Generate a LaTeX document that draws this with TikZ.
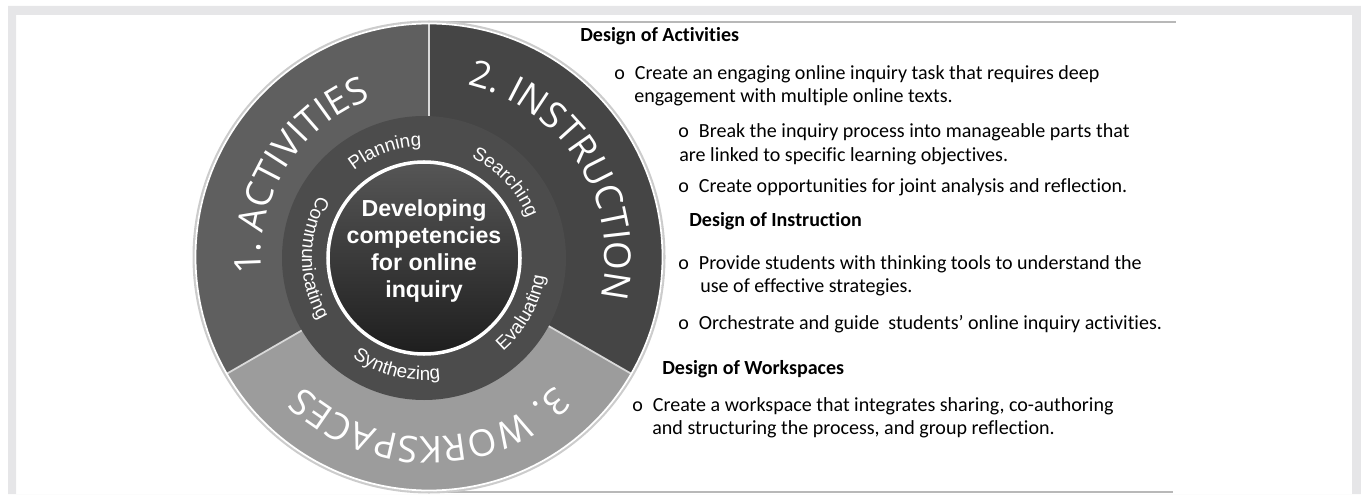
\documentclass[tikz,border=0pt]{standalone}
\usepackage{fontspec}
\setmainfont{Carlito}[Ligatures=CommonOff]
\newfontfamily\arialfont{Liberation Sans}
\newfontfamily\segoefont{Open Sans}
\usetikzlibrary{decorations.text,positioning}
\definecolor{actGray}{HTML}{5F5F5F}
\definecolor{insGray}{HTML}{454545}
\definecolor{wrkGray}{HTML}{9C9C9C}
\definecolor{ringGray}{HTML}{4C4C4C}
\definecolor{coreTop}{HTML}{565656}
\definecolor{coreBot}{HTML}{1E1E1E}
\definecolor{frameGray}{HTML}{E6E6E8}
\definecolor{ruleGray}{HTML}{B8B8B8}

\begin{document}
\begin{tikzpicture}[x=0.02cm, y=0.02cm,
  txt/.style={anchor=west, inner sep=0pt, text height=0.75em, text depth=0.25em,
    font=\fontsize{11.4}{13}\selectfont},
  head/.style={txt, font=\fontsize{11.4}{13}\selectfont\bfseries},
  ringcw/.style={decorate, decoration={text along path, text align=center,
    text={|\arialfont\fontsize{10.7}{12}\selectfont\color{white}|#1}}},
  ringccw/.style={ringcw={#1}},
  bigcw/.style={decorate, decoration={text along path, text align=center,
    text={|\segoefont\fontsize{21}{24}\selectfont\color{white}|#1}}}]
\useasboundingbox (0,0) rectangle (1361,494);
% ---- frame ----
\fill[frameGray, even odd rule] (8,0) rectangle (1361,488) (16,0) rectangle (1352,479);
\coordinate (c) at (429,237);
\coordinate (k) at (424,236);
\draw[ruleGray, line width=1.5] (c) ++(0,235) -- (1176,472);
\draw[ruleGray, line width=1.5] (415,2) -- (1173,2);
% ---- outer ring: three sectors ----
\fill[black!20] (c) circle (236.5);
\fill[actGray] (c) -- ++(90:234) arc[start angle=90, end angle=210, radius=234] -- cycle;
\fill[wrkGray] (c) -- ++(210:234) arc[start angle=210, end angle=330, radius=234] -- cycle;
\fill[insGray] (c) -- ++(-30:234) arc[start angle=-30, end angle=90, radius=234] -- cycle;
\foreach \a in {90,210,330}{\draw[white!85!black, line width=1] (c) -- ++(\a:234);}
\draw[white, line width=1] (c) circle (233.5);
% ---- middle ring and core ----
\fill[black!70] (k) circle (142);
\fill[ringGray] (k) circle (140);
\shade[top color=coreTop, bottom color=coreBot] (k) circle (96);
\draw[white, line width=2] (k) circle (96);
\node[align=center, text=white, font=\arialfont\bfseries\fontsize{13.2}{15.4}\selectfont]
  (core) at (424,243) {Developing\\competencies\\for online\\inquiry};
% ---- labels along the rings ----
\path[ringcw={Planning}] (k) ++(155:112) arc[start angle=155, end angle=65, radius=112];
\path[ringcw={Searching}] (k) ++(88:111) arc[start angle=88, end angle=-2, radius=111];
\path[ringccw={Evaluating}] (k) ++(-74:122) arc[start angle=-74, end angle=16, radius=122];
\path[ringccw={Synthezing}] (k) ++(211:122) arc[start angle=211, end angle=301, radius=122];
\path[ringccw={Communicating}] (k) ++(125:122) arc[start angle=125, end angle=235, radius=122];
\path[bigcw={1. ACTIVITIES}] (c) ++(210:168) arc[start angle=210, end angle=86, radius=168];
\path[bigcw={2. INSTRUCTION}] (c) ++(92:176) arc[start angle=92, end angle=-28, radius=176];
\path[bigcw={3. WORKSPACES}] (c) ++(330:180) arc[start angle=330, end angle=210, radius=180];
% ---- design notes ----
\node[head] (hdA) at (580,457) {Design of Activities};
\node[txt] (a1a) at (614,419) {o\enspace Create an engaging online inquiry task that requires deep};
\node[txt] (a1b) at (634,396) {engagement with multiple online texts.};
\node[txt] (a2a) at (678,361) {o\enspace Break the inquiry process into manageable parts that};
\node[txt] (a2b) at (679,337) {are linked to specific learning objectives.};
\node[txt] (a3) at (678,306) {o\enspace Create opportunities for joint analysis and reflection.};
\node[head] (hdI) at (689,272) {Design of Instruction};
\node[txt] (i1a) at (678,229) {o\enspace Provide students with thinking tools to understand the};
\node[txt] (i1b) at (700,206) {use of effective strategies.};
\node[txt] (i2) at (678,169) {o\enspace Orchestrate and guide\ \ students’ online inquiry activities.};
\node[head] (hdW) at (662,124) {Design of Workspaces};
\node[txt] (w1a) at (632,87) {o\enspace Create a workspace that integrates sharing, co-authoring};
\node[txt] (w1b) at (652,64) {and structuring the process, and group reflection.};
\end{tikzpicture}
\end{document}
